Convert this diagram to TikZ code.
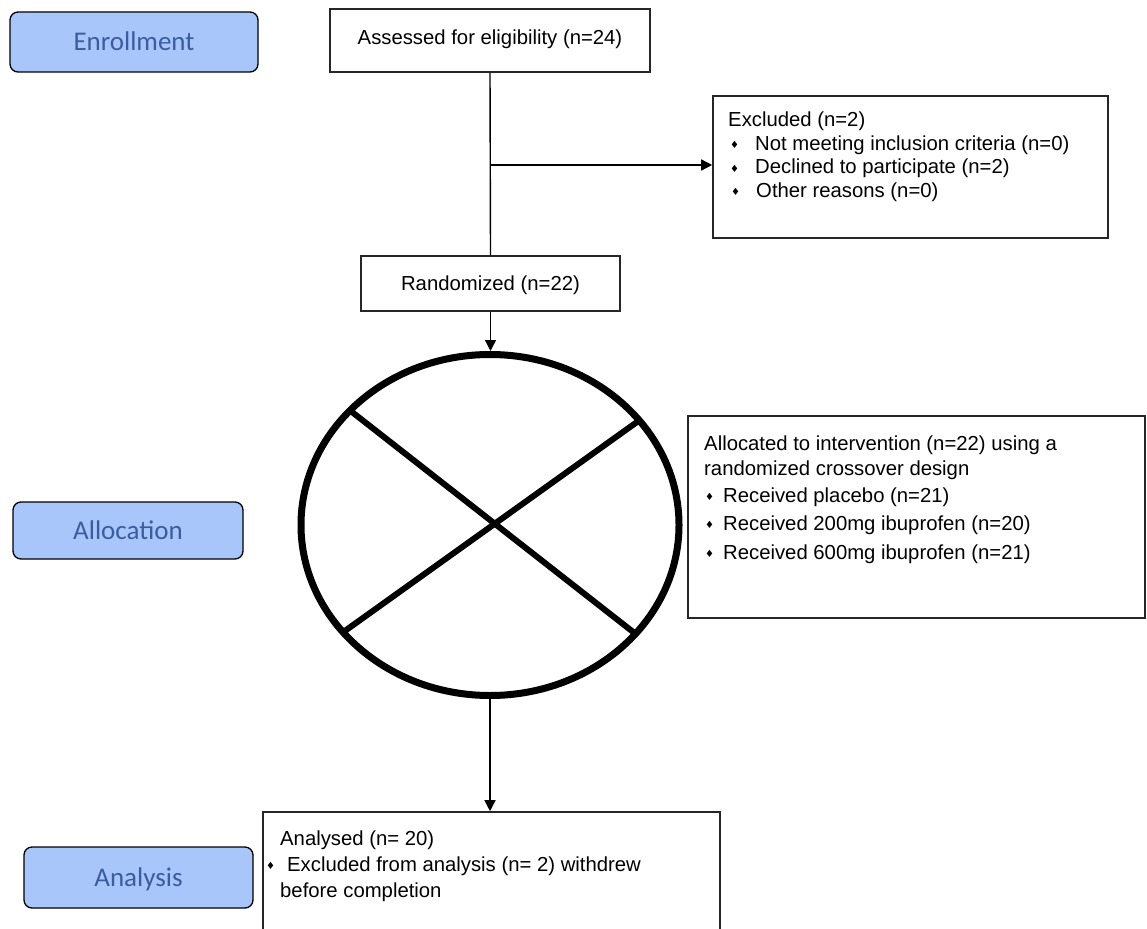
\documentclass[tikz,border=0pt]{standalone}
\usepackage{fontspec}
\setmainfont{Liberation Sans}
\newfontfamily\calib{Carlito}
\newfontfamily\djv{DejaVu Sans}
\usetikzlibrary{arrows.meta,calc,shapes.geometric}
\definecolor{bluefill}{RGB}{168,198,250}
\definecolor{bluetext}{RGB}{59,92,160}
\newcommand\dia{\raisebox{1.5pt}{\djv\fontsize{10}{10}\selectfont ♦}}
\newcommand\bl[1]{\makebox[#1][l]{\dia}}
\begin{document}
\begin{tikzpicture}[x=1pt,y=-1pt,
  phase/.style={draw=black, line width=1.3pt, rounded corners=8pt, fill=bluefill,
    inner sep=0pt, text height=17.4pt, text depth=0pt,
    font=\calib\fontsize{27}{30}\selectfont, text=bluetext},
  box/.style={draw=black!85, line width=1.6pt, fill=white, inner sep=0pt},
  ctxt/.style={inner sep=0pt, text height=14.5pt, text depth=0pt, font=\fontsize{20.3}{24}\selectfont},
  ltxt/.style={inner sep=0pt, anchor=base west, font=\fontsize{20.3}{24}\selectfont},
  conn/.style={line width=1.4pt, black},
  arr/.style={conn, -{Triangle[length=11pt,width=11pt]}},
  ring/.style={draw=black, line width=7pt, ellipse, inner sep=0pt},
  cross/.style={line width=6pt, black}
]
\clip (0,0) rectangle (1147,928);
\fill[white] (0,0) rectangle (1147,928);

% phase labels
\node[phase, minimum width=248pt, minimum height=60pt] (enr) at (134,42) {Enrollment};
\node[phase, minimum width=230pt, minimum height=57pt] (alo) at (128,530.5) {Allocation};
\node[phase, minimum width=229pt, minimum height=61pt] (anl) at (138.5,877.5) {Analysis};

% flow boxes
\node[box, ctxt, minimum width=320pt, minimum height=63pt] (ass) at (490,40.5) {};
\node[ctxt] (asst) at (490,37) {Assessed for eligibility (n=24)};
\node[box, minimum width=395pt, minimum height=142pt] (ex) at (910.5,167) {};
\node[box, ctxt, minimum width=259pt, minimum height=55pt] (rand) at (490.5,283.5) {Randomized (n=22)};
\node[box, minimum width=457pt, minimum height=202pt] (al) at (916.5,517) {};
\node[box, minimum width=457pt, minimum height=128pt] (an) at (491.5,876) {};

% ring with cross
\node[ring, minimum width=378pt, minimum height=341pt] (circ) at (490,525) {};
\coordinate (ul) at (352,412);
\coordinate (lr) at (637,635);
\coordinate (ur) at (637,422);
\coordinate (ll) at (342,633);
\draw[cross] (ul) -- (lr);
\draw[cross] (ur) -- (ll);

% excluded text
\node[ltxt] (ex1) at (728,127) {Excluded (n=2)};
\node[ltxt] (ex2) at (730,150) {\bl{25pt}Not meeting inclusion criteria (n=0)};
\node[ltxt] (ex3) at (730,174) {\bl{25pt}Declined to participate (n=2)};
\node[ltxt] (ex4) at (731,197) {\bl{25pt}Other reasons (n=0)};

% allocated text
\node[ltxt] (al1) at (704,450) {Allocated to intervention (n=22) using a};
\node[ltxt] (al2) at (704,475) {randomized crossover design};
\node[ltxt] (al3) at (705,502) {\bl{18pt}Received placebo (n=21)};
\node[ltxt] (al4) at (705,530) {\bl{18pt}Received 200mg ibuprofen (n=20)};
\node[ltxt] (al5) at (705,559) {\bl{18pt}Received 600mg ibuprofen (n=21)};

% analysis text
\node[ltxt] (an1) at (280,845) {Analysed (n= 20)};
\node[ltxt] (an2) at (266,871) {\bl{21pt}Excluded from analysis (n= 2) withdrew};
\node[ltxt] (an3) at (280,897) {before completion};

% connectors
\coordinate (j) at (490,165);
\draw[conn] (ass.south) -- (rand.north);
\draw[arr] (j) -- (j -| ex.west);
\draw[arr] (rand.south) -- (rand.south |- circ.north);
\draw[arr] (circ.south) -- (circ.south |- an.north);
\end{tikzpicture}
\end{document}
